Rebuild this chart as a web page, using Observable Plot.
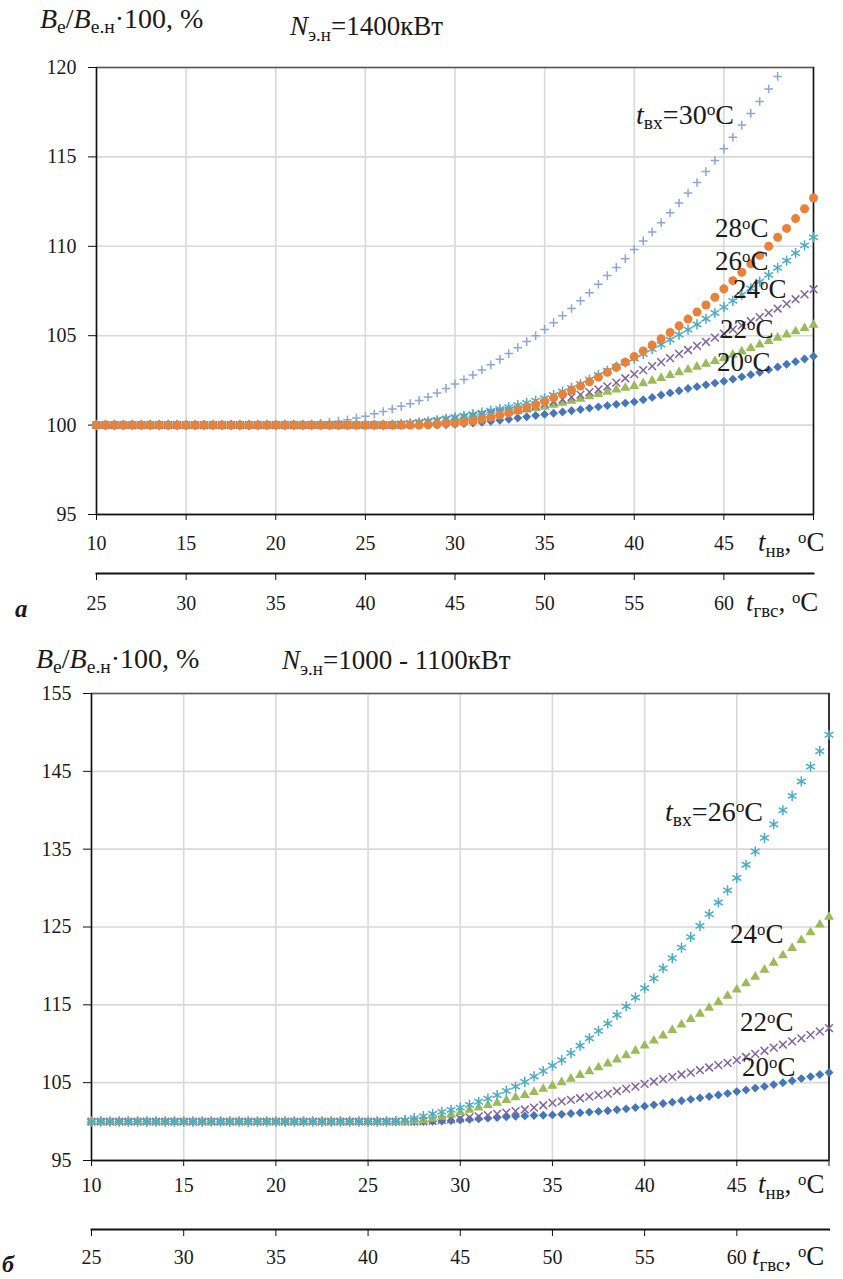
<!DOCTYPE html>
<html><head><meta charset="utf-8">
<script src="https://cdn.jsdelivr.net/npm/d3@7"></script>
<script src="https://cdn.jsdelivr.net/npm/@observablehq/plot@0.6"></script>
<style>
body{margin:0;background:#fff;}
#page{position:relative;width:843px;height:1279px;font-family:"Liberation Serif","Times New Roman",serif;color:#1a1a1a;overflow:hidden;background:#fff}
#page svg{position:absolute;left:0;overflow:visible}
.abs{position:absolute;white-space:nowrap;line-height:1}
.abs sub{font-size:0.7em;vertical-align:baseline;position:relative;top:0.3em}
.abs sup{font-size:0.62em;vertical-align:baseline;position:relative;top:-0.5em}
</style></head><body><div id="page"></div>
<script>
// ---- shared x values: outdoor air temperature t_нв, °C ----
const tnv = [10,10.5,11,11.5,12,12.5,13,13.5,14,14.5,15,15.5,16,16.5,17,17.5,18,18.5,19,19.5,
 20,20.5,21,21.5,22,22.5,23,23.5,24,24.5,25,25.5,26,26.5,27,27.5,28,28.5,29,29.5,
 30,30.5,31,31.5,32,32.5,33,33.5,34,34.5,35,35.5,36,36.5,37,37.5,38,38.5,39,39.5,
 40,40.5,41,41.5,42,42.5,43,43.5,44,44.5,45,45.5,46,46.5,47,47.5,48,48.5,49,49.5,50];

// ---- tick values / labels ----
const xTicks = [10,15,20,25,30,35,40,45,50];
const xTickLabels = ["10","15","20","25","30","35","40","45",""];
const gvsTicks = [25,30,35,40,45,50,55,60,65];
const gvsTickLabels = ["25","30","35","40","45","50","55","60",""];
const yTicksA = [95,100,105,110,115,120];
const yTicksB = [95,105,115,125,135,145,155];

// ---- panel а: N = 1400 kW, B_e/B_e.н·100 % ----
const A20 = [100,100,100,100,100,100,100,100,100,100,100,100,100,100,100,100,100,100,100,100,
 100,100,100,100,100,100,100,100,100,100,100,100,100,100,100,100,100,100,100,
 100.02,100.05,100.08,100.12,100.16,100.21,100.27,100.33,100.4,100.47,100.54,100.6,100.66,100.73,100.8,100.87,100.95,101.02,101.09,101.16,
 101.23,101.3,101.42,101.55,101.68,101.8,101.92,102.05,102.15,102.25,102.35,102.45,102.57,102.7,102.82,102.95,103.1,103.25,103.4,103.55,103.7,103.85];
const A22 = [100,100,100,100,100,100,100,100,100,100,100,100,100,100,100,100,100,100,100,100,
 100,100,100,100,100,100,100,100,100,100,100,100,100,100,
 100.02,100.06,100.1,100.16,100.22,100.3,100.36,100.42,100.48,100.54,100.6,100.66,100.73,100.8,100.87,100.94,101.02,101.13,101.24,101.35,
 101.47,101.6,101.73,101.86,101.98,102.08,102.18,102.33,102.48,102.63,102.79,102.95,103.1,103.26,103.42,103.58,103.75,103.93,104.11,104.3,
 104.5,104.7,104.88,105.06,105.24,105.42,105.6];
const A24 = [100,100,100,100,100,100,100,100,100,100,100,100,100,100,100,100,100,100,100,100,
 100,100,100,100,100,100,100,100,100,100,100,100,100,100,
 100.02,100.06,100.11,100.17,100.23,100.3,100.37,100.44,100.51,100.58,100.65,100.72,100.8,100.88,100.97,101.08,101.2,101.32,101.44,101.57,
 101.7,101.84,102.0,102.17,102.38,102.62,102.85,103.07,103.3,103.52,103.75,103.98,104.2,104.43,104.66,104.89,105.12,105.35,105.58,105.81,
 106.04,106.28,106.52,106.78,107.04,107.31,107.6];
const A26 = [100,100,100,100,100,100,100,100,100,100,100,100,100,100,100,100,100,100,100,100,
 100,100,100,100,100,100,100,100,100,100,100,100,100,
 100.02,100.05,100.09,100.14,100.2,100.27,100.35,100.43,100.52,100.61,100.7,100.8,100.9,101.0,101.12,101.24,101.37,101.5,101.68,101.88,
 102.08,102.3,102.55,102.8,103.04,103.27,103.5,103.72,103.98,104.25,104.5,104.78,105.06,105.34,105.63,105.95,106.27,106.6,106.95,107.3,
 107.65,108.02,108.4,108.8,109.2,109.62,110.05,110.5];
const A28 = [100,100,100,100,100,100,100,100,100,100,100,100,100,100,100,100,100,100,100,100,
 100,100,100,100,100,100,100,100,100,100,100,100,100,100,100,100,100,
 100.02,100.05,100.08,100.11,100.17,100.24,100.33,100.43,100.55,100.68,100.82,100.98,101.14,101.32,101.52,101.73,101.95,102.18,102.42,102.68,
 102.95,103.23,103.52,103.83,104.15,104.48,104.83,105.18,105.55,105.93,106.32,106.72,107.15,107.62,108.08,108.55,109.02,109.5,110.0,110.5,
 111.0,111.55,112.1,112.7];
const A30 = [100,100,100,100,100,100,100,100,100,100,100,100,100,100,100,100,100,100,100,100,
 100,100,100,100,
 100.05,100.1,100.16,100.22,100.3,100.4,100.5,100.63,100.76,100.9,101.05,101.2,101.38,101.57,101.8,102.05,102.3,102.55,102.8,103.08,
 103.37,103.68,104.0,104.33,104.67,105.0,105.35,105.73,106.12,106.52,106.95,107.4,107.88,108.36,108.82,109.3,109.82,110.3,110.8,111.32,
 111.87,112.42,112.98,113.57,114.18,114.8,115.45,116.1,116.78,117.43,118.1,118.8,119.5];

// ---- panel б: N = 1000–1100 kW ----
const B20 = [100,100,100,100,100,100,100,100,100,100,100,100,100,100,100,100,100,100,100,100,
 100,100,100,100,100,100,100,100,100,100,100,100,100,100,100,100,100,
 100.02,100.06,100.12,100.2,100.28,100.36,100.44,100.52,100.6,100.67,100.73,100.78,100.82,100.86,100.95,101.04,101.13,101.22,101.31,101.4,
 101.52,101.64,101.8,101.98,102.15,102.32,102.5,102.68,102.86,103.04,103.22,103.42,103.62,103.85,104.07,104.3,104.52,104.75,105.0,105.25,
 105.52,105.78,106.05,106.3];
const B22 = [100,100,100,100,100,100,100,100,100,100,100,100,100,100,100,100,100,100,100,100,
 100,100,100,100,100,100,100,100,100,100,100,100,100,100,100,100,
 100.04,100.1,100.18,100.28,100.4,100.53,100.67,100.82,100.98,101.15,101.35,101.55,101.8,102.1,102.4,102.6,102.8,103.0,103.2,103.4,
 103.6,103.9,104.2,104.5,104.85,105.15,105.45,105.75,106.05,106.3,106.6,106.95,107.25,107.55,107.9,108.3,108.7,109.1,109.5,109.9,
 110.3,110.7,111.15,111.6,112.0];
const B24 = [100,100,100,100,100,100,100,100,100,100,100,100,100,100,100,100,100,100,100,100,
 100,100,100,100,100,100,100,100,100,100,100,100,100,100,100,
 100.05,100.15,100.35,100.6,100.9,101.2,101.5,101.8,102.1,102.4,102.75,103.1,103.4,103.8,104.2,104.6,105.05,105.5,105.98,106.45,
 106.95,107.45,107.97,108.5,109.1,109.75,110.4,111.05,111.75,112.45,113.15,113.85,114.6,115.35,116.15,116.95,117.75,118.6,119.5,120.4,
 121.35,122.3,123.3,124.3,125.3,126.3];
const B26 = [100,100,100,100,100,100,100,100,100,100,100,100,100,100,100,100,100,100,100,100,
 100,100,100,100,100,100,100,100,100,100,100,100,100,
 100.05,100.2,100.45,100.7,101.0,101.25,101.5,101.8,102.15,102.55,102.95,103.4,103.95,104.5,105.1,105.8,106.5,107.2,107.9,108.8,
 109.75,110.7,111.65,112.6,113.7,114.8,115.95,117.15,118.4,119.7,121.0,122.35,123.7,125.15,126.65,128.15,129.7,131.3,133.0,134.7,
 136.45,138.2,140.0,141.85,143.7,145.6,147.6,149.7];

// ---- marker styles (by marker) ----
const markers = {
  diamond:  {symbol: "diamond2", fill: "#4576b9", r: 4},
  triangle: {symbol: "triangle", fill: "#9bbb59", r: 3.7},
  times:    {symbol: "times", stroke: "#8064a2", r: 3.6},
  asterisk: {symbol: "asterisk", stroke: "#4bacc6", r: 4.8},
  circle:   {symbol: "circle", fill: "#e8823a", r: 4.5},
  plus:     {symbol: "plus", stroke: "#8ca6d7", r: 2.9}
};

const page = document.getElementById("page");
const FONT = '"Liberation Serif","Times New Roman",serif';

function toPoints(vals){ return vals.map((v,i) => ({x: tnv[i], y: v})); }
function dots(vals, key){
  const s = markers[key];
  return Plot.dot(toPoints(vals), {x: "x", y: "y", symbol: s.symbol, r: s.r,
    fill: s.fill || "none", stroke: s.stroke || "none", strokeWidth: s.stroke ? 1.5 : 0});
}

function mainPlot(o){
  const xl = new Map(xTicks.map((d,i) => [d, xTickLabels[i]]));
  const svg = Plot.plot({
    width: 843, height: o.height,
    marginTop: o.mt, marginBottom: o.mb, marginLeft: o.ml, marginRight: o.mr,
    style: {fontFamily: FONT, fontSize: "20px", color: "#1a1a1a", background: "transparent", overflow: "visible"},
    x: {domain: [10, 50]},
    y: {domain: o.ydom},
    marks: [
      Plot.gridX(xTicks.slice(1, -1), {stroke: "#d9d9d9", strokeOpacity: 1, strokeWidth: 1.6}),
      Plot.gridY(o.yticks.slice(1), {stroke: "#d9d9d9", strokeOpacity: 1, strokeWidth: 1.6}),
      Plot.frame({stroke: "#595959", strokeWidth: 1.6}),
      Plot.ruleX([50], {stroke: "#111", strokeWidth: 1.3}),
      Plot.ruleX([10], {stroke: "#111", strokeWidth: 1.3}),
      Plot.ruleY([o.ydom[0]], {stroke: "#111", strokeWidth: 1.5}),
      Plot.axisY(o.yticks, {tickSize: 8, tickPadding: o.ypad, stroke: "#111", label: null}),
      Plot.axisX(xTicks, {tickSize: 6, tickPadding: o.xpad, stroke: "#111", label: null, tickFormat: d => xl.get(d)}),
      ...o.series.map(([vals, key]) => dots(vals, key))
    ]
  });
  svg.style.top = o.top + "px";
  page.appendChild(svg);
}

function gvsAxis(o){
  const gl = new Map(gvsTicks.map((d,i) => [d, gvsTickLabels[i]]));
  const svg = Plot.plot({
    width: 843, height: o.height,
    marginTop: 2, marginBottom: o.mb, marginLeft: o.ml, marginRight: o.mr,
    style: {fontFamily: FONT, fontSize: "20px", color: "#1a1a1a", background: "transparent", overflow: "visible"},
    x: {domain: [25, 65]},
    marks: [
      Plot.frame({anchor: "bottom", stroke: "#111", strokeWidth: 2}),
      Plot.axisX(gvsTicks.slice(0, -1), {tickSize: 7, tickPadding: o.xpad, stroke: "#111", label: null, tickFormat: d => gl.get(d)})
    ]
  });
  svg.style.top = o.top + "px";
  page.appendChild(svg);
}

function lab(html, left, baseline, size, extra){
  const d = document.createElement("div");
  d.className = "abs";
  d.style.left = left + "px";
  d.style.top = (baseline - 0.8375 * size) + "px";
  d.style.fontSize = size + "px";
  if (extra) d.style.cssText += extra;
  d.innerHTML = html;
  page.appendChild(d);
}

// ===== panel а =====
mainPlot({top: 40, height: 530, mt: 27, mb: 56, ml: 96, mr: 30, ydom: [95, 120], yticks: yTicksA,
  ypad: 12, xpad: 15,
  series: [[A30, "plus"], [A20, "diamond"], [A22, "triangle"], [A24, "times"], [A26, "asterisk"], [A28, "circle"]]});
gvsAxis({top: 561, height: 50, mb: 38, ml: 96, mr: 30, xpad: 15});

lab('<i>B</i><sub>е</sub>/<i>B</i><sub>е.н</sub>·100, %', 40, 28, 28);
lab('<i>N</i><sub>э.н</sub>=1400кВт', 290, 36, 27);
lab('<i>t</i><sub>вх</sub>=30<sup>o</sup>C', 636, 124, 28);
lab('28<sup>o</sup>C', 715, 238, 27);
lab('26<sup>o</sup>C', 715, 271, 27);
lab('24<sup>o</sup>C', 733, 299, 27);
lab('22<sup>o</sup>C', 720, 339, 27);
lab('20<sup>o</sup>C', 717, 372, 27);
lab('<i>t</i><sub>нв</sub>, <sup>o</sup>C', 758, 552, 27);
lab('<i>t</i><sub>гвс</sub>, <sup>o</sup>C', 746, 612, 27);
lab('а', 15, 617, 25, 'font-weight:bold;font-style:italic;');

// ===== panel б =====
mainPlot({top: 680, height: 530, mt: 13, mb: 50, ml: 91, mr: 14.5, ydom: [95, 155], yticks: yTicksB,
  ypad: 12, xpad: 11,
  series: [[B20, "diamond"], [B22, "times"], [B24, "triangle"], [B26, "asterisk"]]});
gvsAxis({top: 1217, height: 55, mb: 43, ml: 91, mr: 14.5, xpad: 13});

lab('<i>B</i><sub>е</sub>/<i>B</i><sub>е.н</sub>·100, %', 36, 668, 28);
lab('<i>N</i><sub>э.н</sub>=1000 - 1100кВт', 282, 670, 27);
lab('<i>t</i><sub>вх</sub>=26<sup>o</sup>C', 665, 821, 28);
lab('24<sup>o</sup>C', 730, 944, 27);
lab('22<sup>o</sup>C', 740, 1032, 27);
lab('20<sup>o</sup>C', 742, 1077, 27);
lab('<i>t</i><sub>нв</sub>, <sup>o</sup>C', 758, 1194, 27);
lab('<i>t</i><sub>гвс</sub>, <sup>o</sup>C', 752, 1266, 27);
lab('б', 2, 1272, 24, 'font-weight:bold;font-style:italic;');
</script></body></html>
